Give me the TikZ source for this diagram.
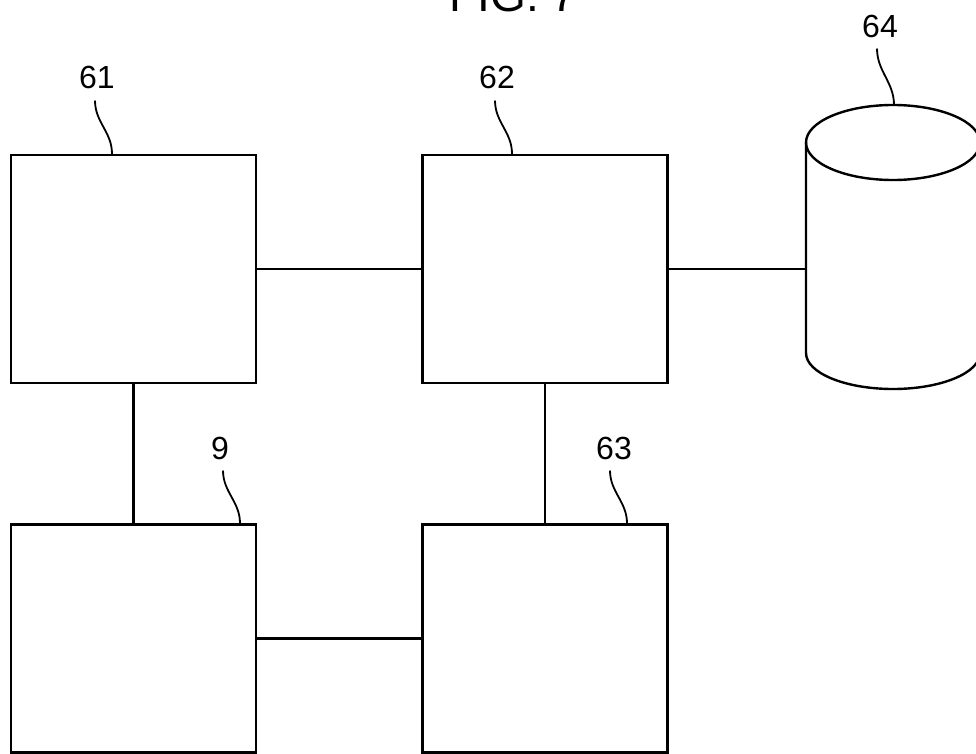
\documentclass[tikz,border=0pt]{standalone}
\usepackage{fontspec}
\setmainfont{Liberation Sans}
\tikzset{
	unit/.style={draw, line width=2.4pt, minimum width=245pt, minimum height=228pt, inner sep=0pt},
	wire/.style={line width=2.4pt},
	lead/.style={line width=1.8pt},
	num/.style={inner sep=0pt, font=\fontsize{32}{36}\selectfont},
}

\begin{document}
\begin{tikzpicture}[x=1pt, y=-1pt]
	\clip (0, 0) rectangle (976, 754);

	\node[anchor=base, inner sep=0pt, font=\fontsize{46}{50}\selectfont] (title) at (513.5, 12) {FIG. 7};

	\node[unit] (u61) at (133.5, 269) {};
	\node[unit] (u62) at (545, 269) {};
	\node[unit] (u9) at (133.5, 638.5) {};
	\node[unit] (u63) at (545, 638.5) {};

	\draw[wire] (806, 142.5) -- (806, 353) arc[start angle=180, end angle=0, x radius=87, y radius=36] -- (980, 142.5);
	\draw[wire] (893, 142.5) ellipse[x radius=87, y radius=37.5];
	\coordinate (db) at (806, 269);

	\draw[wire] (u61) -- (u62);
	\draw[wire] (u62) -- (db);
	\draw[wire] (u61) -- (u9);
	\draw[wire] (u62) -- (u63);
	\draw[wire] (u9) -- (u63);

	\node[num] (l61) at (97, 77) {61};
	\node[num] (l62) at (497, 77) {62};
	\node[num] (l64) at (880, 26) {64};
	\node[num] (l9) at (220, 448) {9};
	\node[num] (l63) at (614, 448) {63};

	\draw[lead] ([xshift=-2pt, yshift=-12pt]l61.south) to[out=-90, in=90] ([xshift=-21.5pt]u61.north);
	\draw[lead] ([xshift=-2pt, yshift=-12pt]l62.south) to[out=-90, in=90] ([xshift=-33pt]u62.north);
	\draw[lead] ([xshift=-3pt, yshift=-11pt]l64.south) to[out=-90, in=90] (894, 105);
	\draw[lead] ([xshift=3pt, yshift=-11pt]l9.south) to[out=-90, in=90] ([xshift=106.5pt]u9.north);
	\draw[lead] ([xshift=-4pt, yshift=-11pt]l63.south) to[out=-90, in=90] ([xshift=82pt]u63.north);

\end{tikzpicture}
\end{document}
